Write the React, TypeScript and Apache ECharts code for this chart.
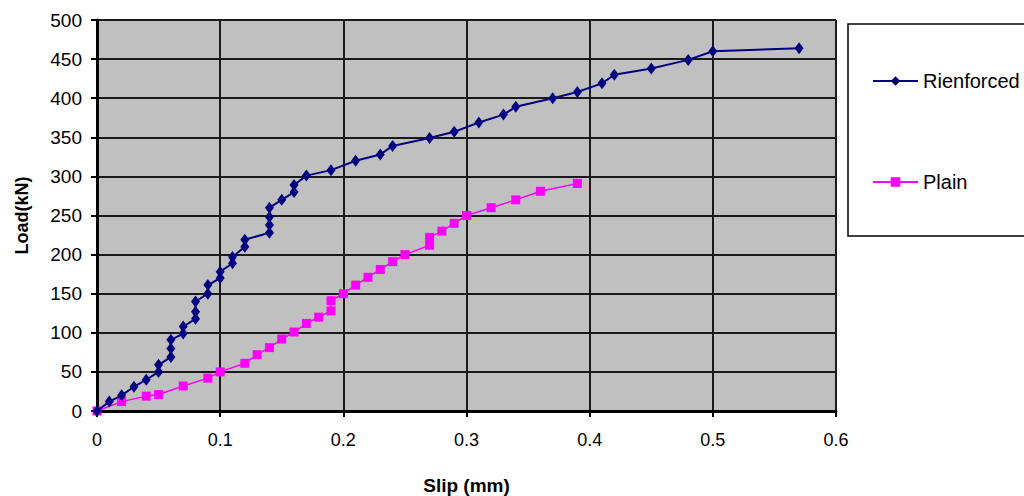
import React, { useEffect, useRef } from "react";
import * as echarts from "echarts";

const reinforcedSlip = [0, 0.01, 0.02, 0.03, 0.04, 0.05, 0.05, 0.06, 0.06, 0.06, 0.07, 0.07, 0.08, 0.08, 0.08, 0.09, 0.09, 0.1, 0.1, 0.11, 0.11, 0.12, 0.12, 0.14, 0.14, 0.14, 0.14, 0.15, 0.16, 0.16, 0.17, 0.19, 0.21, 0.23, 0.24, 0.27, 0.29, 0.31, 0.33, 0.34, 0.37, 0.39, 0.41, 0.42, 0.45, 0.48, 0.5, 0.57];
const reinforcedLoad = [0, 12, 20, 31, 40, 50, 59, 69, 80, 91, 99, 108, 118, 127, 140, 150, 161, 170, 178, 189, 197, 210, 219, 228, 238, 248, 260, 270, 280, 289, 301, 308, 320, 328, 339, 349, 357, 369, 379, 389, 400, 408, 419, 430, 438, 449, 460, 464];

const plainSlip = [0, 0.02, 0.04, 0.05, 0.07, 0.09, 0.1, 0.12, 0.13, 0.14, 0.15, 0.16, 0.17, 0.18, 0.19, 0.19, 0.2, 0.21, 0.22, 0.23, 0.24, 0.25, 0.27, 0.27, 0.28, 0.29, 0.3, 0.32, 0.34, 0.36, 0.39];
const plainLoad = [0, 12, 19, 21, 32, 42, 50, 61, 72, 81, 92, 101, 112, 120, 128, 141, 150, 161, 171, 181, 191, 200, 212, 222, 230, 240, 250, 260, 270, 281, 291];

const seriesNames = ["Rienforced", "Plain"];
const xAxisTitle = "Slip (mm)";
const yAxisTitle = "Load(kN)";

const FONT = "'Liberation Sans', Arial, sans-serif";

export default function App() {
  const ref = useRef<HTMLDivElement>(null);
  useEffect(() => {
    if (!ref.current) return;
    const chart = echarts.init(ref.current, undefined, { renderer: "svg" });
    const zip = (xs: number[], ys: number[]) => xs.map((x, i) => [x, ys[i]]);
    chart.setOption({
      animation: false,
      backgroundColor: "#ffffff",
      textStyle: { fontFamily: FONT },
      grid: {
        left: 97,
        right: 188,
        top: 20,
        bottom: 85,
        show: true,
        backgroundColor: "#c0c0c0",
        borderWidth: 0,
        outerBoundsMode: "none",
        containLabel: false,
      },
      graphic: [
        {
          type: "rect",
          shape: { x: 848, y: 24, width: 200, height: 212 },
          style: { fill: "#ffffff", stroke: "#000000", lineWidth: 1.5 },
          z: 0,
        },
      ],
      legend: {
        orient: "vertical",
        left: 867,
        top: 66,
        itemWidth: 45,
        itemHeight: 12,
        itemGap: 81,
        textStyle: { fontSize: 20, color: "#000", fontFamily: FONT },
        data: seriesNames,
        z: 5,
      },
      xAxis: {
        type: "value",
        min: 0,
        max: 0.6,
        interval: 0.1,
        name: xAxisTitle,
        nameLocation: "middle",
        nameGap: 65,
        nameTextStyle: { fontSize: 19, fontWeight: "bold", color: "#000", fontFamily: FONT },
        axisLine: { show: true, onZero: false, lineStyle: { color: "#000", width: 3 } },
        axisTick: { show: true, length: 6, lineStyle: { color: "#000", width: 2 } },
        axisLabel: { fontSize: 18, color: "#000", margin: 20, fontFamily: FONT },
        splitLine: { show: true, lineStyle: { color: "#1a1a1a", width: 2 } },
      },
      yAxis: {
        type: "value",
        min: 0,
        max: 500,
        interval: 50,
        name: yAxisTitle,
        nameLocation: "middle",
        nameGap: 66,
        nameTextStyle: { fontSize: 18, fontWeight: "bold", color: "#000", fontFamily: FONT },
        axisLine: { show: true, lineStyle: { color: "#000", width: 3 } },
        axisTick: { show: true, length: 6, lineStyle: { color: "#000", width: 2 } },
        axisLabel: { fontSize: 19, color: "#000", margin: 15, fontFamily: FONT },
        splitLine: { show: true, lineStyle: { color: "#1a1a1a", width: 2 } },
      },
      series: [
        {
          name: seriesNames[0],
          type: "line",
          data: zip(reinforcedSlip, reinforcedLoad),
          symbol: "diamond",
          symbolSize: [9, 12],
          color: "#000080",
          lineStyle: { color: "#000080", width: 2 },
          itemStyle: { color: "#000080" },
          z: 3,
        },
        {
          name: seriesNames[1],
          type: "line",
          data: zip(plainSlip, plainLoad),
          symbol: "rect",
          symbolSize: 9,
          color: "#ff00ff",
          lineStyle: { color: "#ff00ff", width: 1.5 },
          itemStyle: { color: "#ff00ff" },
          z: 2,
        },
      ],
    });
    return () => chart.dispose();
  }, []);
  return (
    <div
      ref={ref}
      style={{ position: "fixed", left: 0, top: 0, width: 1024, height: 496 }}
    />
  );
}
